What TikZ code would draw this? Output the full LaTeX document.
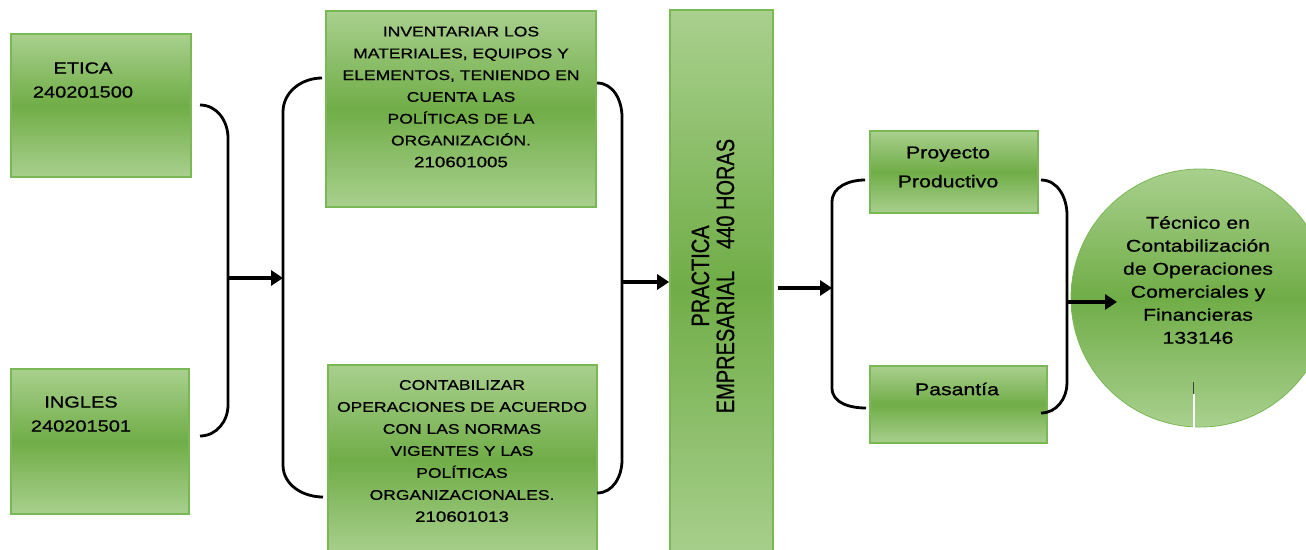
\documentclass[tikz,border=0pt]{standalone}
\usepackage{fontspec}
\setmainfont{Liberation Sans}[FakeStretch=1.25,FakeBold=0.8]
\newfontfamily\plainf{Liberation Sans}[FakeBold=0.8]
\usetikzlibrary{arrows.meta}
\definecolor{gLight}{RGB}{169,208,142}
\definecolor{gDark}{RGB}{112,173,71}
\definecolor{gEdge}{RGB}{122,184,86}
\tikzset{
  gbox/.style={rectangle, draw=gEdge, line width=1.6pt, top color=gLight, bottom color=gLight, middle color=gDark, inner sep=0pt},
  gcirc/.style={circle, draw=gEdge, line width=0.8pt, top color=gLight, bottom color=gLight, middle color=gDark, inner sep=0pt},
  brk/.style={line width=2.8pt, black},
  arr/.style={line width=4pt, black, -{Triangle[length=12pt,width=15pt]}},
  comic/.style={align=center, inner sep=0pt, font=\fontsize{14}{21.8}\selectfont},
  label16/.style={align=center, inner sep=0pt, font=\fontsize{16}{24}\selectfont},
}
\begin{document}
\begin{tikzpicture}[x=1pt, y=-1pt]
\useasboundingbox (0,0) rectangle (1306,549);
\clip (0,0) rectangle (1306,549);
\fill[white] (0,0) rectangle (1306,549);

% boxes
\node[gbox, minimum width=180pt, minimum height=143pt] (etica) at (101,105.5) {};
\node[gbox, minimum width=178pt, minimum height=145pt] (ingles) at (100,441.5) {};
\node[gbox, minimum width=270pt, minimum height=196pt] (inv) at (461,109) {};
\node[gbox, minimum width=269pt, minimum height=190pt] (cont) at (462.5,460) {};
\node[gbox, minimum width=103pt, minimum height=552pt] (prac) at (721.5,286) {};
\node[gbox, minimum width=168pt, minimum height=82pt] (proy) at (954,172) {};
\node[gbox, minimum width=177pt, minimum height=77pt] (pas) at (958.5,404.5) {};
\node[gcirc, minimum size=258pt] (tec) at (1200,298) {};

% stray marks on the circle
\draw[black!75, line width=1pt] (1193,382) -- (1193,394);
\draw[white, line width=2pt] (1194,394) -- (1194,432);

% texts
\node[label16] (eticaT) at (83,80) {ETICA\\240201500};
\node[label16] (inglesT) at (81,414) {INGLES\\240201501};
\node[comic] (invT) at (461,97) {INVENTARIAR LOS\\MATERIALES, EQUIPOS Y\\ELEMENTOS, TENIENDO EN\\CUENTA LAS\\POLÍTICAS DE LA\\ORGANIZACIÓN.\\{\fontsize{15}{21.8}\selectfont 210601005}};
\node[comic, font=\fontsize{14}{22}\selectfont] (contT) at (462,451) {CONTABILIZAR\\OPERACIONES DE ACUERDO\\CON LAS NORMAS\\VIGENTES Y LAS\\POLÍTICAS\\ORGANIZACIONALES.\\{\fontsize{15}{22}\selectfont 210601013}};
\node[rotate=90, inner sep=0pt] (pracT) at (716.5,276) {\scalebox{1}[1.25]{\plainf\fontsize{20}{20}\selectfont\begin{tabular}{@{}c@{}}PRACTICA\\EMPRESARIAL\hspace{22pt}440 HORAS\end{tabular}}};
\node[align=center, inner sep=0pt, font=\fontsize{17}{29}\selectfont] (proyT) at (948,167) {Proyecto\\Productivo};
\node[inner sep=0pt, font=\fontsize{17}{29}\selectfont] (pasT) at (957,389) {Pasantía};
\node[align=center, inner sep=0pt, font=\fontsize{17}{23}\selectfont] (tecT) at (1198,280) {Técnico en\\Contabilización\\de Operaciones\\Comerciales y\\Financieras\\133146};

% brackets
\coordinate (b1) at (228,278);
\coordinate (b2) at (283,278);
\coordinate (b3) at (622,282);
\coordinate (b4) at (832,288);
\coordinate (b5) at (1067,302);
\coordinate (a3s) at (778,288);
\coordinate (a4e) at (1117,302);

\draw[brk] (200,105) to[out=0,in=90] (228,138) -- (228,405) to[out=-90,in=0] (200,436);
\draw[brk] (322,78) to[out=180,in=90] (283,112) -- (283,465) to[out=-90,in=180] (323,497);
\draw[brk] (597,83) to[out=0,in=90] (622,117) -- (622,460) to[out=-90,in=0] (597,493);
\draw[brk] (865,180) to[out=180,in=90] (832,202) -- (832,388) to[out=-90,in=180] (866,408);
\draw[brk] (1041,180) to[out=0,in=90] (1067,215) -- (1067,383) to[out=-90,in=0] (1041,413);

% arrows
\draw[arr] (b1) -- (b2);
\draw[arr] (b3) -- (b3 -| prac.west);
\draw[arr] (a3s) -- (b4);
\draw[arr] (b5) -- (a4e);
\end{tikzpicture}
\end{document}
